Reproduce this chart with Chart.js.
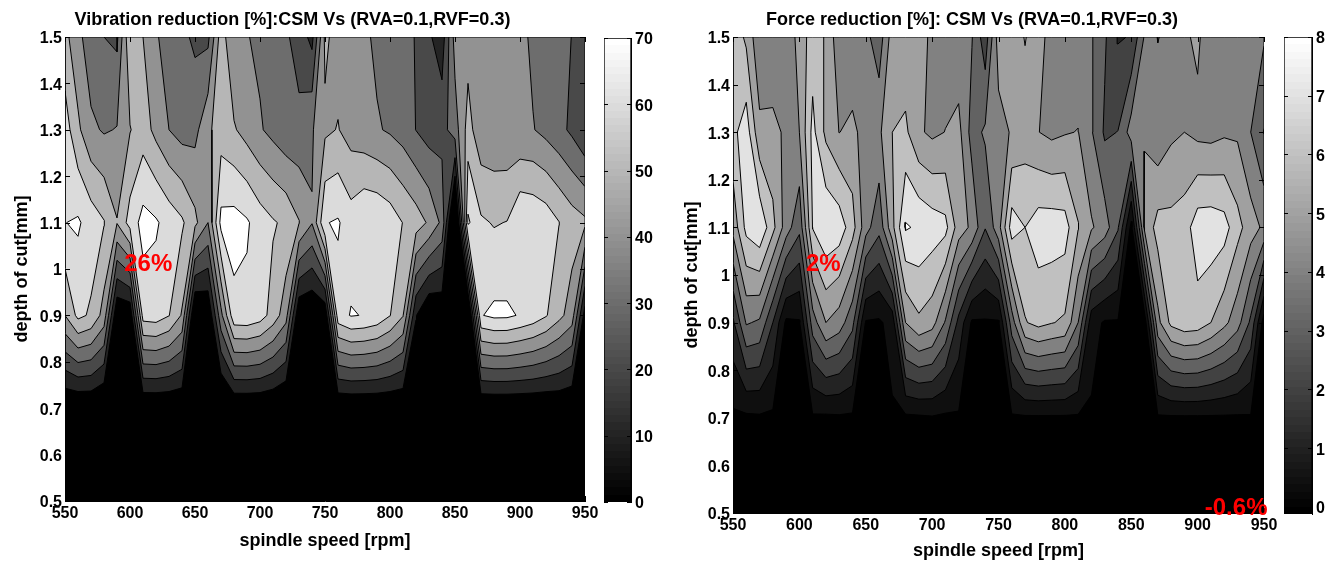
<!DOCTYPE html>
<html>
<head>
<meta charset="utf-8">
<title>Vibration and force reduction</title>
<script src="https://cdn.jsdelivr.net/npm/chart.js@4/dist/chart.umd.js"></script>
<style>
  html, body { margin: 0; background: #fff; }
  canvas { position: absolute; top: 0; }
</style>
</head>
<body>
<canvas id="vibPlot" width="650" height="562" style="left:0"></canvas>
<canvas id="vibBar" width="64" height="562" style="left:604px"></canvas>
<canvas id="forcePlot" width="636" height="562" style="left:680px"></canvas>
<canvas id="forceBar" width="54" height="562" style="left:1284px"></canvas>
<script>
// Grid
const speeds = [550,560,570,580,590,600,610,620,630,640,650,660,670,680,690,700,710,720,730,740,750,760,770,780,790,800,810,820,830,840,850,860,870,880,890,900,910,920,930,940,950];
const depths = [0.5, 0.7, 0.9, 1.1, 1.3, 1.5];

// Vibration reduction [%], one list per depth of cut
const vib05 = [0,0,0,0,0,0,0,0,0,0,0,0,0,0,0,0,0,0,0,0,0,0,0,0,0,0,0,0,0,0,0,0,0,0,0,0,0,0,0,0,0];
const vib07 = [-1,-1.5,-1,-3.6,0,0,-1,-1,-1,-1,-1,-1,-6.4,-1,-1,-1,-1.9,-4.2,-1,-1,-1,-1,-1,-1,-1,-1,-1,0,0,0,0,0,-1,-1,-1,-1,-1,-1,0,-1,-1];
const vib09 = [50,62.5,58.5,46,0,1,64,65,60.3,49,-4.5,-0.8,37,67,67.5,64.5,56,44,0,-1.5,0.5,65.8,70.6,69.6,67,60.3,50.5,10.5,-1.8,0.6,-5,-10,69.5,72,71.8,69.2,66,60.8,53,45,5];
const vib11 = [69.8,71.3,65.6,60.5,50.5,64,73.5,71.2,66,61.5,52.5,40,73,74,71.2,65,61,58,50.4,40.5,69.5,71,64.7,69.5,69,65.8,59.7,55,48.5,37.7,-15,71.6,61.5,59.3,60.3,69.5,68.4,66,60.2,55,52];
const vib13 = [65,52,42,39,40.5,49.5,55,47,40,36,37,48,55,51,46,41,37,33,33,39,48,50.5,45.7,43.5,41,38.7,35.5,29.8,25.5,26.4,35,54,43,42.5,42,41,40.5,37,33,28,21];
const vib15 = [53,43,34,30,28,59,50,41,36,32.5,28,27.5,55,41,40.5,38,35,31.6,25.5,17,52,46,44,42,38,35,33,29.5,21.5,14.5,44,46,46,46,45,43,38,35,33,29.8,25];

// Force reduction [%], one list per depth of cut
const force05 = [-0.3,-0.3,-0.3,-0.3,-0.3,-0.3,-0.3,-0.3,-0.3,-0.3,-0.3,-0.3,-0.3,-0.3,-0.3,-0.3,-0.3,-0.3,-0.3,-0.3,-0.3,-0.3,-0.3,-0.3,-0.3,-0.3,-0.3,-0.3,-0.3,-0.3,-0.3,-0.3,-0.3,-0.3,-0.3,-0.3,-0.3,-0.6,-0.3,-0.3,-0.3];
const force07 = [-0.2,-0.2,-0.15,-0.19,-0.15,-0.15,-0.15,-0.2,-0.15,-0.18,-0.15,-0.15,-0.11,-0.2,-0.17,-0.1,-0.2,-0.13,-0.15,-0.15,-0.15,-0.15,-0.15,-0.15,-0.15,-0.15,-0.15,-0.12,-0.15,-0.15,-0.15,-0.15,-0.15,-0.15,-0.15,-0.15,-0.15,-0.15,-0.15,-0.1,-0.1];
const force09 = [1.8,4.1,3.85,2,-0.2,-0.1,3.5,5,4.5,3.3,-0.1,-0.145,0.35,5,5.8,5.4,3.9,1.7,-0.15,-0.12,-0.12,3.5,5.93,6.3,6.05,5.85,4,0.38,-0.11,-0.1,-0.3,-0.6,4.7,6.25,6.65,6.55,6,5.27,4.4,2.8,-0.5];
const force11 = [5.3,7.3,7.85,6.3,4.5,3.25,7.05,7.9,7.6,6.4,4.4,3.3,5.7,8.1,7.85,7.55,7.3,5.5,4.8,3.05,4.6,7.5,7,7.52,7.55,7.45,6.05,5.12,4.5,3.1,-0.3,5.2,6.4,6.32,6.52,7.58,7.65,7.42,6.35,5.45,4.8];
const force13 = [6.73,7.55,5.25,5.28,4.83,5,7.3,5.77,4.98,5.27,4.56,4.8,6,6.2,5.15,4.8,5.02,5.3,3.6,4.15,4.6,5.1,5.5,5.02,4.77,4.93,5.03,4.1,2.85,3.02,4.46,4.95,4.23,4.8,5,4.72,4.65,4.85,4.85,4,2.95];
const force15 = [6.7,5.8,4.2,4.2,4.2,5.4,6.5,5.9,4.3,4.1,4.3,3.4,5.5,5.3,5.2,4.9,4.5,4.3,4.05,2.4,5.5,5.5,6.05,5.5,4.5,4.4,4.35,4.1,3.15,1.92,2.05,4.1,5.05,4.6,4.85,5.18,4.3,4.3,4.3,4.2,4.1];

// Contour levels and the gray of the band just above each level
const vibLevels = [-1000, 10, 20, 30, 40, 50, 60, 70];
const vibGrays = ['#000000', '#242424', '#494949', '#6d6d6d', '#929292', '#b6b6b6', '#dbdbdb', '#ffffff'];
const forceLevels = [-1000, 0, 1, 2, 3, 4, 5, 6, 7, 8];
const forceGrays = ['#000000', '#0f0f0f', '#232323', '#424242', '#626262', '#818181', '#a0a0a0', '#c0c0c0', '#e2e2e2', '#ffffff'];

// Tick labels
const speedTicks = [550, 600, 650, 700, 750, 800, 850, 900, 950];
const depthTicks = [0.5, 0.6, 0.7, 0.8, 0.9, 1, 1.1, 1.2, 1.3, 1.4, 1.5];
const vibBarTicks = [0, 10, 20, 30, 40, 50, 60, 70];
const forceBarTicks = [0, 1, 2, 3, 4, 5, 6, 7, 8];

// Red notes on the plots
const vibNotes = [{ x: 614, y: 1.009, text: '26%' }];
const forceNotes = [{ x: 618, y: 1.023, text: '2%' }, { x: 929, y: 0.51, text: '-0.6%' }];

Chart.defaults.font.family = '"Liberation Sans", Arial, sans-serif';
Chart.defaults.font.weight = 'bold';
Chart.defaults.color = '#000';

const TICK_SIZE = 16;
const TITLE_SIZE = 18;
const PAD = -1e6;

// Marching squares on the grid with a low border, so every contour closes into a loop
function contourLoops(xs, ys, rows, level) {
    const px = [xs[0], ...xs, xs[xs.length - 1]];
    const py = [ys[0], ...ys, ys[ys.length - 1]];
    const val = (i, j) => (i === 0 || j === 0 || i === px.length - 1 || j === py.length - 1) ? PAD : rows[j - 1][i - 1];

    const edgePoint = (key) => {
        const [k, i, j] = key.split(',');
        const a = +i, b = +j;
        const a2 = k === 'h' ? a + 1 : a;
        const b2 = k === 'h' ? b : b + 1;
        const v1 = val(a, b), v2 = val(a2, b2);
        const t = (level - v1) / (v2 - v1);
        return { x: px[a] + t * (px[a2] - px[a]), y: py[b] + t * (py[b2] - py[b]) };
    };

    const next = new Map();
    for (let i = 0; i < px.length - 1; i++) {
        for (let j = 0; j < py.length - 1; j++) {
            const a = val(i, j), b = val(i + 1, j), c = val(i + 1, j + 1), d = val(i, j + 1);
            const code = (a >= level ? 1 : 0) + (b >= level ? 2 : 0) + (c >= level ? 4 : 0) + (d >= level ? 8 : 0);
            const bottom = `h,${i},${j}`, top = `h,${i},${j + 1}`, left = `v,${i},${j}`, right = `v,${i + 1},${j}`;
            const high = (a + b + c + d) / 4 >= level;
            // Each pair keeps the high side on its left
            const segs = {
                1: [[bottom, left]], 2: [[right, bottom]], 4: [[top, right]], 8: [[left, top]],
                3: [[right, left]], 6: [[top, bottom]], 12: [[left, right]], 9: [[bottom, top]],
                7: [[top, left]], 11: [[right, top]], 13: [[bottom, right]], 14: [[left, bottom]],
                5: high ? [[bottom, right], [top, left]] : [[bottom, left], [top, right]],
                10: high ? [[left, bottom], [right, top]] : [[right, bottom], [left, top]]
            }[code] || [];
            segs.forEach(([from, to]) => next.set(from, to));
        }
    }

    const loops = [];
    while (next.size) {
        const start = next.keys().next().value;
        const points = [];
        let key = start;
        while (next.has(key)) {
            points.push(edgePoint(key));
            const to = next.get(key);
            next.delete(key);
            key = to;
        }
        points.push({ ...points[0] });
        loops.push(points);
    }
    return loops;
}

function signedArea(points) {
    let sum = 0;
    for (let i = 0; i < points.length - 1; i++) {
        sum += points[i].x * points[i + 1].y - points[i + 1].x * points[i].y;
    }
    return sum / 2;
}

// One filled dataset per loop, biggest painted first, holes take the band below
function contourDatasets(rows, levels, grays) {
    const loops = [];
    levels.forEach((level, n) => {
        contourLoops(speeds, depths, rows, level).forEach((points) => {
            const area = signedArea(points);
            if (area === 0) return;
            loops.push({ points, area: Math.abs(area), n, color: area > 0 ? grays[n] : grays[n - 1] });
        });
    });
    loops.sort((p, q) => q.area - p.area || p.n - q.n);
    // Chart.js paints the last dataset first
    return loops.reverse().map((loop) => ({
        data: loop.points,
        showLine: true,
        fill: 'shape',
        backgroundColor: loop.color,
        borderColor: '#000',
        borderWidth: 1,
        pointRadius: 0,
        tension: 0
    }));
}

// MATLAB style ticks that point into the box
const innerTicks = {
    id: 'innerTicks',
    afterDatasetsDraw(chart, args, opts) {
        const { ctx, chartArea: area } = chart;
        const len = opts.length;
        ctx.save();
        ctx.strokeStyle = '#000';
        ctx.lineWidth = 1;
        ctx.beginPath();
        Object.values(chart.scales).forEach((scale) => {
            if (!scale.options.display) return;
            scale.ticks.forEach((tick) => {
                const p = Math.round(scale.getPixelForValue(tick.value)) + 0.5;
                if (scale.isHorizontal()) {
                    ctx.moveTo(p, area.bottom); ctx.lineTo(p, area.bottom - len);
                    ctx.moveTo(p, area.top); ctx.lineTo(p, area.top + len);
                } else {
                    ctx.moveTo(area.left, p); ctx.lineTo(area.left + len, p);
                    ctx.moveTo(area.right, p); ctx.lineTo(area.right - len, p);
                }
            });
        });
        ctx.stroke();
        ctx.restore();
    }
};

const redNotes = {
    id: 'redNotes',
    afterDraw(chart, args, opts) {
        const { ctx, scales } = chart;
        ctx.save();
        ctx.fillStyle = '#ff0000';
        ctx.font = 'bold 24px "Liberation Sans", Arial, sans-serif';
        ctx.textAlign = 'center';
        ctx.textBaseline = 'middle';
        (opts.notes || []).forEach((note) => {
            ctx.fillText(note.text, scales.x.getPixelForValue(note.x), scales.y.getPixelForValue(note.y));
        });
        ctx.restore();
    }
};

function drawContourChart(id, rows, levels, grays, cfg) {
    new Chart(document.getElementById(id), {
        type: 'scatter',
        data: { datasets: contourDatasets(rows, levels, grays) },
        plugins: [innerTicks, redNotes],
        options: {
            responsive: false,
            animation: false,
            devicePixelRatio: 1,
            layout: { padding: { right: cfg.rightPad } },
            plugins: {
                legend: { display: false },
                tooltip: { enabled: false },
                title: {
                    display: true,
                    text: cfg.title,
                    font: { size: TITLE_SIZE, weight: 'bold', lineHeight: 1.2 },
                    padding: { top: 9, bottom: cfg.top - 9 - TITLE_SIZE * 1.2 }
                },
                innerTicks: { length: 5 },
                redNotes: { notes: cfg.notes }
            },
            scales: {
                x: {
                    type: 'linear',
                    min: 550,
                    max: 950,
                    afterFit: (s) => { s.height = cfg.bottomH; },
                    afterBuildTicks: (s) => { s.ticks = speedTicks.map((v) => ({ value: v })); },
                    grid: { display: false, drawTicks: false },
                    border: { color: '#000' },
                    ticks: { maxRotation: 0, padding: 3, font: { size: TICK_SIZE, weight: 'bold' }, callback: (v) => String(v) },
                    title: {
                        display: true,
                        text: 'spindle speed [rpm]',
                        font: { size: TITLE_SIZE, weight: 'bold' },
                        padding: { top: 0, bottom: cfg.xTitlePad }
                    }
                },
                y: {
                    type: 'linear',
                    min: 0.5,
                    max: 1.5,
                    afterFit: (s) => { s.width = cfg.leftW; },
                    afterBuildTicks: (s) => { s.ticks = depthTicks.map((v) => ({ value: v })); },
                    grid: { display: false, drawTicks: false },
                    border: { color: '#000' },
                    ticks: { padding: 3, labelOffset: 2, font: { size: TICK_SIZE, weight: 'bold' }, callback: (v) => String(v) },
                    title: {
                        display: true,
                        text: 'depth of cut[mm]',
                        font: { size: TITLE_SIZE, weight: 'bold' },
                        padding: { top: cfg.yTitlePad, bottom: 0 }
                    }
                }
            }
        }
    });
}

// Colorbar: one floating bar with the 64 gray steps of the colormap
function drawColorbar(id, low, high, tickValues, cfg) {
    new Chart(document.getElementById(id), {
        type: 'bar',
        data: {
            labels: ['scale'],
            datasets: [{
                data: [[low, high]],
                barPercentage: 1,
                categoryPercentage: 1,
                borderColor: '#000',
                borderWidth: 1,
                borderSkipped: false,
                backgroundColor: (c) => {
                    const area = c.chart.chartArea;
                    if (!area) return '#000';
                    const g = c.chart.ctx.createLinearGradient(0, area.bottom, 0, area.top);
                    for (let i = 0; i < 64; i++) {
                        const v = Math.round(i / 63 * 255);
                        const color = `rgb(${v},${v},${v})`;
                        g.addColorStop(i / 64, color);
                        g.addColorStop((i + 1) / 64, color);
                    }
                    return g;
                }
            }]
        },
        plugins: [innerTicks],
        options: {
            responsive: false,
            animation: false,
            devicePixelRatio: 1,
            layout: { padding: { top: cfg.top, bottom: cfg.bottom } },
            plugins: { legend: { display: false }, tooltip: { enabled: false }, innerTicks: { length: 4 } },
            scales: {
                x: { display: false },
                y: {
                    position: 'right',
                    min: low,
                    max: high,
                    afterFit: (s) => { s.width = cfg.labelW; },
                    afterBuildTicks: (s) => { s.ticks = tickValues.map((v) => ({ value: v })); },
                    grid: { display: false, drawTicks: false },
                    border: { color: '#000' },
                    ticks: { padding: 4, labelOffset: 2, font: { size: TICK_SIZE, weight: 'bold' }, callback: (v) => String(v) }
                }
            }
        }
    });
}

drawContourChart('vibPlot', [vib05, vib07, vib09, vib11, vib13, vib15], vibLevels, vibGrays, {
    title: 'Vibration reduction [%]:CSM Vs (RVA=0.1,RVF=0.3)',
    notes: vibNotes,
    top: 37,
    bottomH: 61,
    leftW: 65,
    rightPad: 65,
    xTitlePad: 10,
    yTitlePad: 11
});
drawColorbar('vibBar', 0, 70, vibBarTicks, { top: 38, bottom: 60, labelW: 37 });

drawContourChart('forcePlot', [force05, force07, force09, force11, force13, force15], forceLevels, forceGrays, {
    title: 'Force reduction [%]: CSM Vs (RVA=0.1,RVF=0.3)',
    notes: forceNotes,
    top: 37,
    bottomH: 49,
    leftW: 53,
    rightPad: 52,
    xTitlePad: 0,
    yTitlePad: 1
});
drawColorbar('forceBar', -0.12, 8, forceBarTicks, { top: 37, bottom: 48, labelW: 26 });
</script>
</body>
</html>
